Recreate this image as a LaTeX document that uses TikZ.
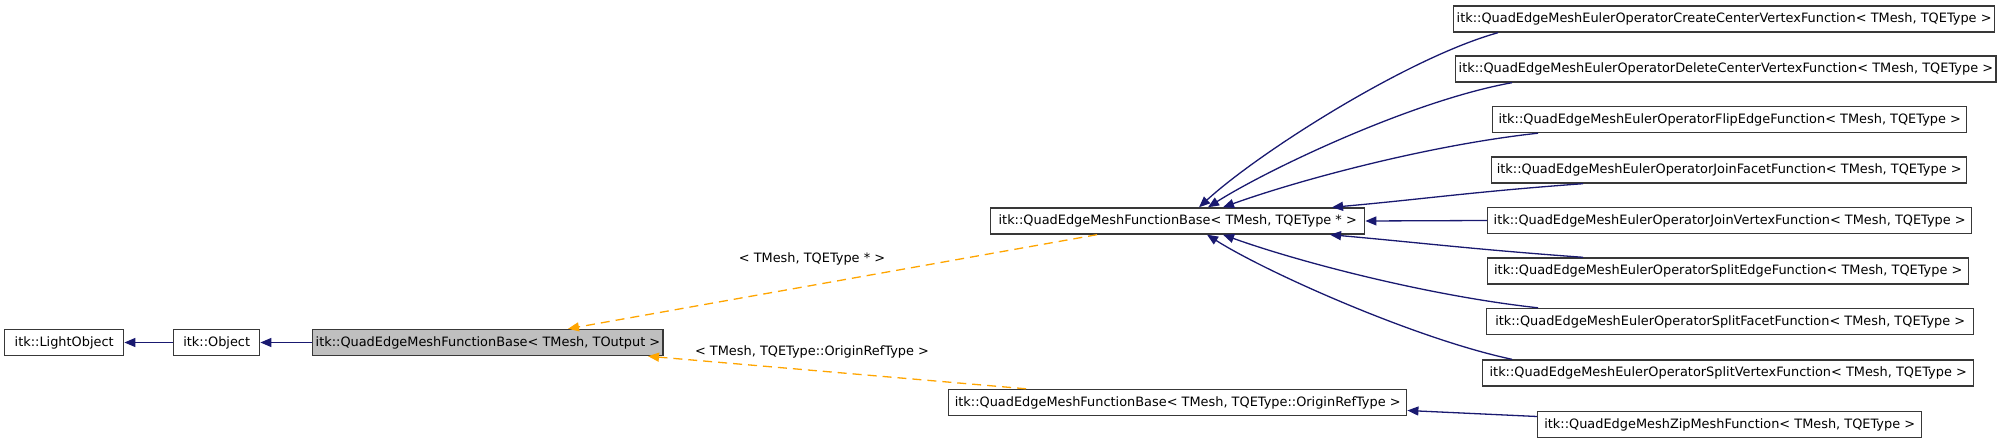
\documentclass[tikz,border=0pt]{standalone}
\usepackage{fontspec}
\setmainfont{DejaVu Sans}
\usetikzlibrary{arrows.meta}
\definecolor{edgeblue}{HTML}{191970}
\definecolor{edgeorange}{HTML}{FFA500}
\definecolor{grayfill}{HTML}{BFBFBF}
\definecolor{boxline}{HTML}{383838}
\tikzset{
  cls/.style={draw=boxline, line width=1.4pt, fill=white, anchor=west, minimum height=26pt, inner xsep=3pt, inner ysep=0pt, font=\fontsize{12.9}{14}\selectfont},
  inh/.style={draw=edgeblue, line width=1.3pt, -{Triangle[length=11pt,width=9pt]}},
  tmpl/.style={draw=edgeorange, line width=1.3pt, dash pattern=on 9pt off 6pt, -{Triangle[length=11pt,width=9pt]}},
  lbl/.style={font=\fontsize{12.9}{14}\selectfont, inner sep=0pt}
}
\begin{document}
\begin{tikzpicture}[x=1pt,y=-1pt]
\useasboundingbox (0,0) rectangle (2008,443);
\node[cls, minimum width=119pt] (light) at (4,342.5) {itk::LightObject};
\node[cls, minimum width=86pt] (obj) at (173,342.5) {itk::Object};
\node[cls, minimum width=346pt, fill=grayfill] (gray) at (312,342.5) {itk::QuadEdgeMeshFunctionBase< TMesh, TOutput >};
\node[cls, minimum width=374pt] (fbstar) at (990,221) {itk::QuadEdgeMeshFunctionBase< TMesh, TQEType * >};
\node[cls, minimum width=458pt] (fbor) at (948,402.5) {itk::QuadEdgeMeshFunctionBase< TMesh, TQEType::OriginRefType >};
\node[cls, minimum width=384pt] (zip) at (1537,424.5) {itk::QuadEdgeMeshZipMeshFunction< TMesh, TQEType >};
\node[cls, minimum width=529pt] (create) at (1453,19) {itk::QuadEdgeMeshEulerOperatorCreateCenterVertexFunction< TMesh, TQEType >};
\node[cls, minimum width=527pt] (delete) at (1455,69) {itk::QuadEdgeMeshEulerOperatorDeleteCenterVertexFunction< TMesh, TQEType >};
\node[cls, minimum width=474pt] (flip) at (1492,119.5) {itk::QuadEdgeMeshEulerOperatorFlipEdgeFunction< TMesh, TQEType >};
\node[cls, minimum width=475pt] (joinf) at (1491,170) {itk::QuadEdgeMeshEulerOperatorJoinFacetFunction< TMesh, TQEType >};
\node[cls, minimum width=484pt] (joinv) at (1487,220.5) {itk::QuadEdgeMeshEulerOperatorJoinVertexFunction< TMesh, TQEType >};
\node[cls, minimum width=481pt] (splite) at (1487,271) {itk::QuadEdgeMeshEulerOperatorSplitEdgeFunction< TMesh, TQEType >};
\node[cls, minimum width=487pt] (splitf) at (1486,321.5) {itk::QuadEdgeMeshEulerOperatorSplitFacetFunction< TMesh, TQEType >};
\node[cls, minimum width=491pt] (splitv) at (1482,373) {itk::QuadEdgeMeshEulerOperatorSplitVertexFunction< TMesh, TQEType >};
% labels
\node[lbl] (lab1) at (812,259) {< TMesh, TQEType * >};
\node[lbl] (lab2) at (812,352) {< TMesh, TQEType::OriginRefType >};
% inheritance edges
\draw[inh] (obj.west) -- (light.east);
\draw[inh] (gray.west) -- (obj.east);
\draw[inh] ([yshift=8pt]zip.west) -- ([yshift=-8pt]fbor.east);
\draw[inh] ([xshift=45pt]create.south west) .. controls +(-90,25) and +(60,-55) .. ([xshift=209pt]fbstar.north west);
\draw[inh] ([xshift=57pt]delete.south west) .. controls +(-100,18) and +(60,-38) .. ([xshift=218pt]fbstar.north west);
\draw[inh] ([xshift=46pt]flip.south west) .. controls +(-110,12) and +(75,-27) .. ([xshift=233pt]fbstar.north west);
\draw[inh] ([xshift=92pt]joinf.south west) .. controls +(-110,8) and +(90,-8) .. ([xshift=342pt]fbstar.north west);
\draw[inh] (joinv.west) -- (fbstar.east);
\draw[inh] ([xshift=96pt]splite.north west) .. controls +(-110,-8) and +(90,8) .. ([xshift=340pt]fbstar.south west);
\draw[inh] ([xshift=52pt]splitf.north west) .. controls +(-110,-12) and +(75,27) .. ([xshift=233pt]fbstar.south west);
\draw[inh] ([xshift=30pt]splitv.north west) .. controls +(-95,-20) and +(60,38) .. ([xshift=217pt]fbstar.south west);
% template instantiation edges
\draw[tmpl] ([xshift=107pt]fbstar.south west) -- ([xshift=256pt]gray.north west);
\draw[tmpl] ([xshift=78pt]fbor.north west) -- ([xshift=336pt]gray.south west);
\end{tikzpicture}
\end{document}
